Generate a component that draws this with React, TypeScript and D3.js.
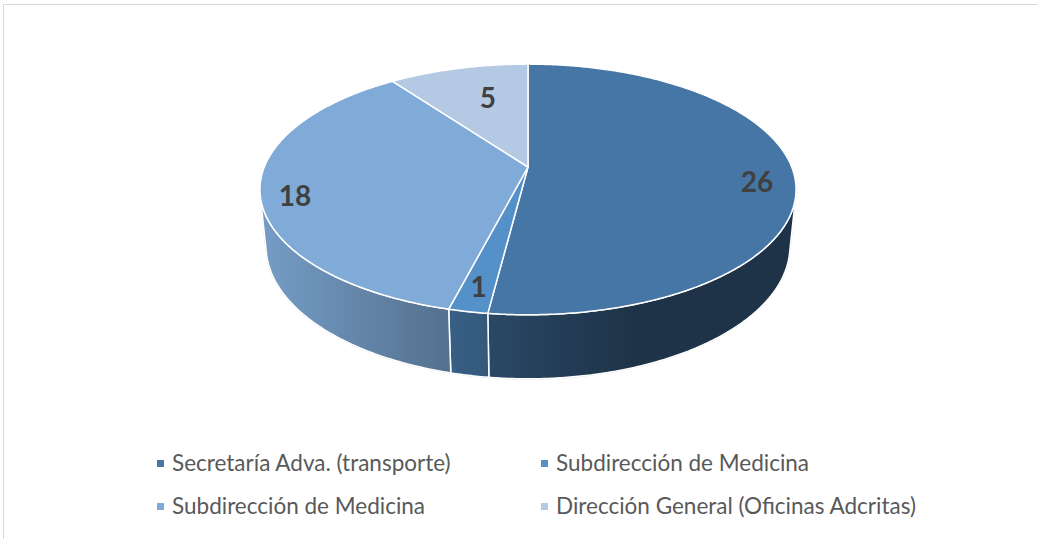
import React from "react";
import * as d3 from "d3";

// ---- data ----
const categories = [
  "Secretaría Adva. (transporte)",
  "Subdirección de Medicina",
  "Subdirección de Medicina",
  "Dirección General (Oficinas Adcritas)",
];
const values = [26, 1, 18, 5];
const sliceColors = ["#4576A6", "#5591C9", "#80ABD8", "#B4C9E4"];

// ---- layout (not data) ----
const W = 1038;
const H = 539;
const CX = 528;
const CY = 167;
const FOCAL = 1308;
const DIST = 4.96;
const SIN_T = 0.46;
const COS_T = 0.888;
const THICK = 0.245;
const labelRadius = [0.862, 0.85, 0.873, 0.536];
const labelDy = [7, 0, 8, -13];
const legendCols = [157, 541];
const legendRows = [471, 514];

function project(a: number, r: number, y: number): [number, number] {
  const X = r * Math.sin(a);
  const Z = -r * Math.cos(a);
  const depth = DIST - Z * COS_T - y * SIN_T;
  return [CX + (FOCAL * X) / depth, CY + (FOCAL * (Z * SIN_T - y * COS_T)) / depth];
}

function arcPoints(a0: number, a1: number, y: number): [number, number][] {
  const n = Math.max(2, Math.ceil(Math.abs(a1 - a0) / (Math.PI / 360)));
  return d3.range(n + 1).map((i) => project(a0 + ((a1 - a0) * i) / n, 1, y));
}

const line = d3.line<[number, number]>();

const pieGen = d3.pie<number>().sort(null).value((d) => d);
const arcs = pieGen(values);

const tang = Math.asin(1 / (DIST * COS_T));
const visLo = Math.PI / 2 + tang;
const visHi = (3 * Math.PI) / 2 - tang;

const halfW = FOCAL / Math.sqrt(DIST * DIST - COS_T * COS_T);
const shade = d3.scaleLinear<number>().domain([-1, -0.3, 0.4, 1]).range([0.92, 0.66, 0.43, 0.43]);

function shadeColor(c: string, k: number) {
  const r = d3.rgb(c);
  return d3.rgb(r.r * k, r.g * k, r.b * k).formatHex();
}

export default function App() {
  const stopsU = d3.range(0, 21).map((i) => -1 + i * 0.1);

  const walls = arcs
    .map((a, i) => {
      const s = Math.max(a.startAngle, visLo);
      const e = Math.min(a.endAngle, visHi);
      if (e <= s) return null;
      const top = arcPoints(s, e, 0);
      const bot = arcPoints(e, s, -THICK);
      return { i, d: line([...top, ...bot])! + "Z" };
    })
    .filter(Boolean) as { i: number; d: string }[];

  const tops = arcs.map((a, i) => {
    const pts = [project(0, 0, 0), ...arcPoints(a.startAngle, a.endAngle, 0)];
    return line(pts)! + "Z";
  });

  const rim = line([
    project(visLo, 1, 0),
    ...arcPoints(visLo, visHi, -THICK),
    project(visHi, 1, 0),
  ])!;

  return (
    <svg
      width={W}
      height={H}
      style={{ position: "absolute", left: 0, top: 0, background: "#fff" }}
      fontFamily="Lato, 'Open Sans', sans-serif"
    >
      <defs>
        {sliceColors.map((c, i) => (
          <linearGradient
            key={i}
            id={`side${i}`}
            gradientUnits="userSpaceOnUse"
            x1={CX - halfW}
            x2={CX + halfW}
            y1={0}
            y2={0}
          >
            {stopsU.map((u, j) => (
              <stop key={j} offset={(u + 1) / 2} stopColor={shadeColor(c, shade(u))} />
            ))}
          </linearGradient>
        ))}
      </defs>
      <rect x={3.5} y={4.5} width={W + 10} height={H + 10} fill="none" stroke="#d9d9d9" strokeWidth={1} />

      <path d={rim} fill="none" stroke="#d0d0d0" strokeWidth={1.5} />
      {walls.map((w) => (
        <path key={w.i} d={w.d} fill={`url(#side${w.i})`} stroke="#ffffff" strokeWidth={1.5} strokeLinejoin="round" />
      ))}
      {tops.map((d, i) => (
        <path key={i} d={d} fill={sliceColors[i]} stroke="#ffffff" strokeWidth={1.5} strokeLinejoin="round" />
      ))}

      {arcs.map((a, i) => {
        const mid = (a.startAngle + a.endAngle) / 2;
        const [x, y] = project(mid, labelRadius[i], 0);
        return (
          <text
            key={i}
            x={x}
            y={y + labelDy[i]}
            textAnchor="middle"
            dominantBaseline="central"
            fontSize={28}
            fontWeight="bold"
            fill="#404040"
          >
            {values[i]}
          </text>
        );
      })}

      {categories.map((c, i) => {
        const x = legendCols[i % 2];
        const y = legendRows[Math.floor(i / 2)];
        return (
          <g key={i}>
            <rect x={x} y={y - 11} width={7} height={7} fill={sliceColors[i]} />
            <text x={x + 15} y={y} fontSize={22.5} fill="#595959">
              {c}
            </text>
          </g>
        );
      })}
    </svg>
  );
}
